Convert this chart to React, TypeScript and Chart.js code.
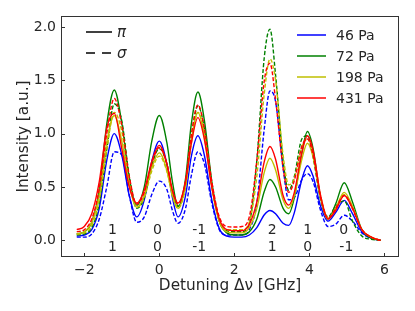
import React, { useEffect, useRef } from "react";
import { Chart, registerables } from "chart.js";

Chart.register(...registerables);

// Detuning grid (GHz)
const detuning = [
  -2.2, -2.0, -1.8, -1.6, -1.4, -1.2, -1.0, -0.8, -0.6, -0.4, -0.2, 0, 0.2, 0.35, 0.5,
  0.7, 0.85, 1.03, 1.2, 1.4, 1.6, 1.8, 2.0, 2.2, 2.4, 2.6, 2.8, 2.95, 3.1, 3.3, 3.45,
  3.6, 3.8, 3.95, 4.1, 4.3, 4.5, 4.7, 4.93, 5.15, 5.4, 5.65, 5.9,
];

// pi polarisation (solid)
const pi46 = [
  0.04, 0.05, 0.1, 0.3, 0.75, 1.0, 0.8, 0.42, 0.22, 0.38, 0.74, 0.93, 0.72, 0.4, 0.22,
  0.42, 0.78, 0.98, 0.8, 0.38, 0.11, 0.04, 0.03, 0.03, 0.05, 0.12, 0.24, 0.28, 0.25, 0.16, 0.14,
  0.26, 0.57, 0.7, 0.6, 0.32, 0.18, 0.26, 0.375, 0.25, 0.08, 0.02, 0.0,
];
const pi72 = [
  0.06, 0.08, 0.17, 0.47, 1.09, 1.41, 1.1, 0.58, 0.33, 0.5, 0.93, 1.17, 0.92, 0.55, 0.32,
  0.58, 1.08, 1.39, 1.13, 0.55, 0.18, 0.07, 0.05, 0.05, 0.08, 0.2, 0.46, 0.57, 0.5, 0.3, 0.25,
  0.4, 0.82, 1.02, 0.86, 0.4, 0.2, 0.34, 0.54, 0.36, 0.1, 0.02, 0.0,
];
const pi198 = [
  0.06, 0.08, 0.17, 0.43, 0.92, 1.17, 0.93, 0.52, 0.31, 0.42, 0.68, 0.82, 0.66, 0.42, 0.3,
  0.52, 0.93, 1.2, 0.98, 0.5, 0.18, 0.08, 0.07, 0.07, 0.12, 0.3, 0.64, 0.77, 0.66, 0.38, 0.3,
  0.42, 0.76, 0.91, 0.78, 0.4, 0.2, 0.3, 0.45, 0.32, 0.1, 0.03, 0.0,
];
const pi431 = [
  0.1, 0.13, 0.25, 0.55, 1.05, 1.19, 0.86, 0.5, 0.35, 0.47, 0.74, 0.89, 0.72, 0.47, 0.35,
  0.55, 0.9, 1.15, 0.95, 0.5, 0.2, 0.1, 0.09, 0.09, 0.15, 0.36, 0.74, 0.88, 0.76, 0.42, 0.33,
  0.45, 0.82, 0.98, 0.84, 0.42, 0.2, 0.28, 0.42, 0.3, 0.1, 0.03, 0.0,
];

// sigma polarisation (dashed)
const sigma46 = [
  0.03, 0.03, 0.06, 0.2, 0.5, 0.83, 0.8, 0.42, 0.17, 0.22, 0.43, 0.555, 0.48, 0.28, 0.16,
  0.3, 0.6, 0.83, 0.72, 0.35, 0.1, 0.05, 0.05, 0.05, 0.1, 0.35, 1.05, 1.4, 1.3, 0.68, 0.38,
  0.4, 0.57, 0.625, 0.55, 0.28, 0.13, 0.15, 0.235, 0.18, 0.07, 0.02, 0.0,
];
const sigma72 = [
  0.05, 0.06, 0.12, 0.35, 0.85, 1.28, 1.12, 0.6, 0.3, 0.4, 0.7, 0.86, 0.72, 0.45, 0.32,
  0.52, 0.95, 1.26, 1.05, 0.52, 0.18, 0.09, 0.08, 0.08, 0.16, 0.75, 1.72, 1.98, 1.55, 0.75, 0.47,
  0.6, 0.95, 0.98, 0.78, 0.38, 0.22, 0.32, 0.37, 0.18, 0.04, 0.01, 0.0,
];
const sigma198 = [
  0.06, 0.07, 0.14, 0.38, 0.85, 1.2, 1.02, 0.55, 0.31, 0.4, 0.65, 0.79, 0.65, 0.42, 0.3,
  0.5, 0.9, 1.2, 1.0, 0.5, 0.18, 0.1, 0.1, 0.1, 0.17, 0.6, 1.38, 1.7, 1.5, 0.8, 0.52,
  0.58, 0.88, 0.95, 0.82, 0.42, 0.21, 0.3, 0.43, 0.3, 0.1, 0.03, 0.0,
];
const sigma431 = [
  0.08, 0.1, 0.2, 0.48, 1.0, 1.33, 1.08, 0.6, 0.34, 0.45, 0.72, 0.87, 0.72, 0.47, 0.34,
  0.56, 0.98, 1.27, 1.05, 0.55, 0.22, 0.13, 0.125, 0.13, 0.22, 0.75, 1.5, 1.66, 1.32, 0.68, 0.45,
  0.56, 0.88, 0.95, 0.8, 0.4, 0.21, 0.3, 0.42, 0.3, 0.1, 0.03, 0.0,
];

const pressures = ["46 Pa", "72 Pa", "198 Pa", "431 Pa"];
const colors = ["#0000ff", "#008000", "#bfbf00", "#ff0000"];

const xTicks = [-2, 0, 2, 4, 6];
const yTicks = [0, 0.5, 1.0, 1.5, 2.0];

// transition labels (upper row / lower row) and their left x-position
const labelsUpper = ["1", "0", "-1", "2", "1", "0"];
const labelsLower = ["1", "0", "-1", "1", "0", "-1"];
const labelX = [-1.37, -0.17, 0.88, 2.89, 3.84, 4.8];
const labelUpperY = 0.063;
const labelLowerY = -0.103;

const FONT = '"DejaVu Sans", sans-serif';
const TEXT = "#262626";

const toPts = (ys: number[]) => ys.map((v, i) => ({ x: detuning[i], y: v }));

const overlay = {
  id: "overlay",
  afterDraw(chart: any) {
    const { ctx, chartArea: a, scales } = chart;
    const x = scales.x;
    const y = scales.y;
    ctx.save();
    // frame
    ctx.strokeStyle = "#333";
    ctx.lineWidth = 1;
    const L = Math.round(a.left) + 0.5;
    const R = Math.round(a.right) - 0.5;
    const T = Math.round(a.top) + 0.5;
    const B = Math.round(a.bottom) - 0.5;
    ctx.strokeRect(L, T, R - L, B - T);
    // inward ticks
    ctx.beginPath();
    xTicks.forEach((v) => {
      const px = Math.round(x.getPixelForValue(v)) + 0.5;
      ctx.moveTo(px, B);
      ctx.lineTo(px, B - 3.5);
    });
    yTicks.forEach((v) => {
      const py = Math.round(y.getPixelForValue(v)) + 0.5;
      ctx.moveTo(L, py);
      ctx.lineTo(L + 3.5, py);
    });
    ctx.stroke();

    // transition labels
    ctx.fillStyle = TEXT;
    ctx.font = `14px ${FONT}`;
    ctx.textAlign = "left";
    ctx.textBaseline = "alphabetic";
    labelX.forEach((lx, i) => {
      const px = x.getPixelForValue(lx);
      ctx.fillText(labelsUpper[i], px, y.getPixelForValue(labelUpperY));
      ctx.fillText(labelsLower[i], px, y.getPixelForValue(labelLowerY));
    });

    // polarisation legend (top-left)
    ctx.strokeStyle = "#000";
    ctx.lineWidth = 1.5;
    const lx0 = a.left + 25;
    const lx1 = a.left + 51;
    ctx.beginPath();
    ctx.moveTo(lx0, a.top + 16);
    ctx.lineTo(lx1, a.top + 16);
    ctx.stroke();
    ctx.setLineDash([9, 7]);
    ctx.beginPath();
    ctx.moveTo(lx0, a.top + 37);
    ctx.lineTo(lx1 + 1, a.top + 37);
    ctx.stroke();
    ctx.setLineDash([]);
    ctx.font = `italic 15px ${FONT}`;
    ctx.fillText("π", lx1 + 5, a.top + 21);
    ctx.fillText("σ", lx1 + 5, a.top + 42);

    // pressure legend (top-right)
    ctx.font = `14px ${FONT}`;
    pressures.forEach((p, i) => {
      const ly = a.top + 19 + i * 21;
      ctx.strokeStyle = colors[i];
      ctx.lineWidth = 1.5;
      ctx.beginPath();
      ctx.moveTo(a.left + 236, ly);
      ctx.lineTo(a.left + 265, ly);
      ctx.stroke();
      ctx.fillStyle = TEXT;
      ctx.fillText(p, a.left + 275, ly + 5);
    });
    ctx.restore();
  },
};

export default function App() {
  const ref = useRef<HTMLCanvasElement | null>(null);
  useEffect(() => {
    if (!ref.current) return;
    const solid = [pi46, pi72, pi198, pi431];
    const dashed = [sigma46, sigma72, sigma198, sigma431];
    const datasets: any[] = [];
    for (let i = 3; i >= 0; i--) {
      datasets.push({
        label: pressures[i] + " σ",
        data: toPts(dashed[i]),
        borderColor: colors[i],
        borderDash: [4, 2],
        borderWidth: 1.4,
        fill: false,
      });
      datasets.push({
        label: pressures[i] + " π",
        data: toPts(solid[i]),
        borderColor: colors[i],
        borderWidth: 1.4,
        fill: false,
      });
    }
    const chart = new Chart(ref.current, {
      type: "line",
      data: { datasets },
      plugins: [overlay],
      options: {
        animation: false,
        responsive: false,
        devicePixelRatio: 1,
        layout: { padding: { left: 0, top: 16, right: 16, bottom: 0 } },
        plugins: { legend: { display: false }, tooltip: { enabled: false } },
        elements: {
          point: { radius: 0 },
          line: { cubicInterpolationMode: "monotone" },
        },
        scales: {
          x: {
            type: "linear",
            min: -2.62,
            max: 6.39,
            grid: { display: false, drawTicks: false },
            border: { display: false },
            afterBuildTicks: (s: any) => {
              s.ticks = xTicks.map((v) => ({ value: v }));
            },
            afterFit: (s: any) => {
              s.height = 54;
            },
            ticks: {
              padding: 5,
              color: TEXT,
              font: { family: FONT, size: 14 },
              maxRotation: 0,
              callback: (v: any) => (v < 0 ? "\u2212" + Math.abs(v) : String(v)),
            },
            title: {
              display: true,
              text: "Detuning Δν [GHz]",
              color: TEXT,
              font: { family: FONT, size: 15.3 },
              padding: { top: 0, bottom: 16 },
            },
          },
          y: {
            type: "linear",
            min: -0.156,
            max: 2.103,
            grid: { display: false, drawTicks: false },
            border: { display: false },
            afterBuildTicks: (s: any) => {
              s.ticks = yTicks.map((v) => ({ value: v }));
            },
            afterFit: (s: any) => {
              s.width = 61;
            },
            ticks: {
              padding: 5,
              color: TEXT,
              font: { family: FONT, size: 14 },
              callback: (v: any) => Number(v).toFixed(1),
            },
            title: {
              display: true,
              text: "Intensity [a.u.]",
              color: TEXT,
              font: { family: FONT, size: 15.3 },
              padding: { top: 14.8, bottom: 0 },
            },
          },
        },
      } as any,
    });
    return () => chart.destroy();
  }, []);
  return (
    <div style={{ position: "absolute", left: 0, top: 0, width: 415, height: 311 }}>
      <canvas ref={ref} width={415} height={311} style={{ width: 415, height: 311 }} />
    </div>
  );
}
